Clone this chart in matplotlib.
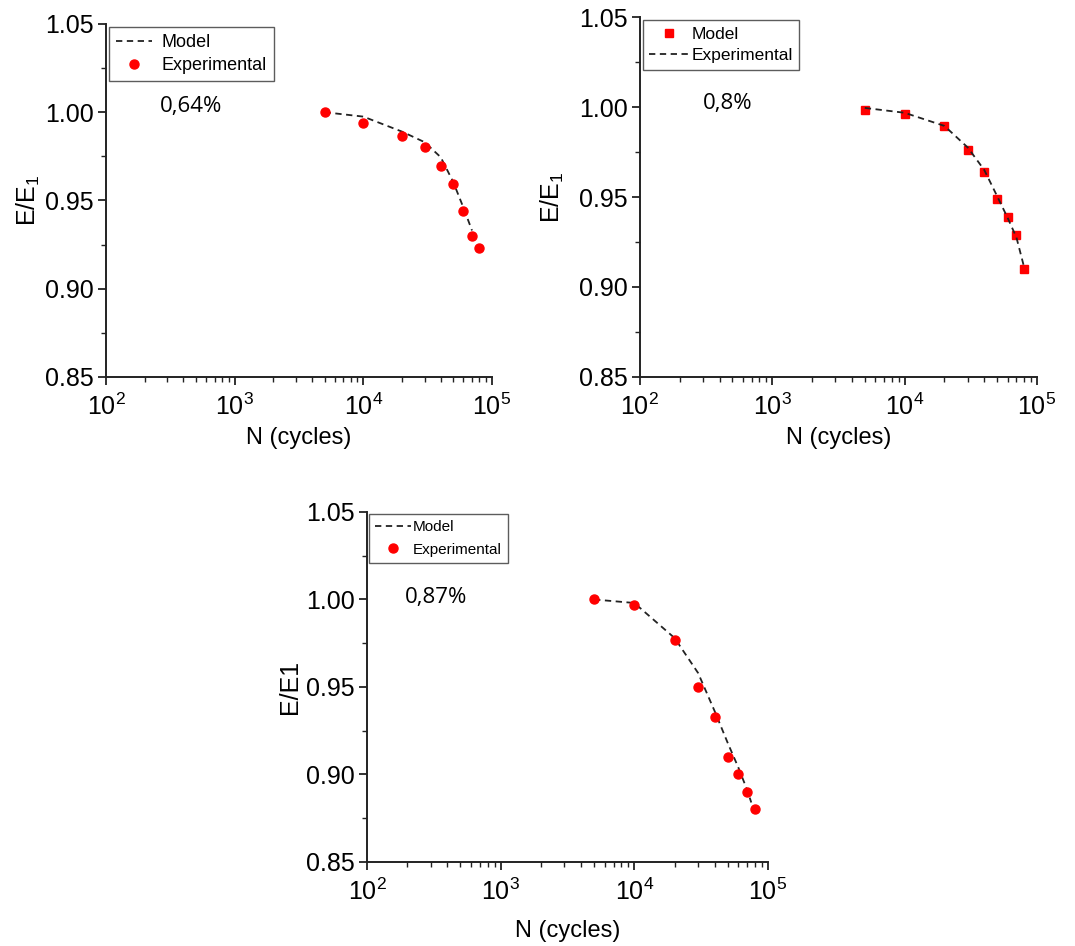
import matplotlib
matplotlib.use("Agg")
import matplotlib.pyplot as plt
from matplotlib.ticker import LogLocator, MultipleLocator, FormatStrFormatter

plt.rcParams['font.family'] = ['Liberation Sans', 'DejaVu Sans']
plt.rcParams['mathtext.default'] = 'regular'

# panel 1 : 0,64%
exp1_n = [5000, 10000, 20000, 30000, 40000, 50000, 60000, 70000, 80000]
exp1_e = [1.000, 0.994, 0.9865, 0.9805, 0.9695, 0.9596, 0.9438, 0.930, 0.923]
mod1_n = [5000, 10000, 20000, 30000, 40000, 50000, 60000, 70000]
mod1_e = [1.000, 0.9975, 0.989, 0.983, 0.9745, 0.9605, 0.946, 0.933]

# panel 2 : 0,8%
exp2_n = [5000, 10000, 20000, 30000, 40000, 50000, 60000, 70000, 80000]
exp2_e = [0.9985, 0.9963, 0.9893, 0.976, 0.964, 0.949, 0.939, 0.929, 0.910]
mod2_n = [5000, 10000, 20000, 30000, 40000, 50000, 60000, 70000, 80000]
mod2_e = [0.9995, 0.9968, 0.9895, 0.9775, 0.965, 0.9505, 0.9385, 0.9275, 0.911]

# panel 3 : 0,87%
exp3_n = [5000, 10000, 20000, 30000, 40000, 50000, 60000, 70000, 80000]
exp3_e = [1.000, 0.9966, 0.9767, 0.950, 0.9326, 0.910, 0.900, 0.890, 0.880]
mod3_n = [5000, 10000, 20000, 30000, 40000, 50000, 60000, 70000, 75000]
mod3_e = [1.000, 0.998, 0.978, 0.958, 0.936, 0.918, 0.904, 0.891, 0.884]

labels = ['0,64%', '0,8%', '0,87%']

fig = plt.figure(figsize=(10.75, 9.46), dpi=100)
ax1 = fig.add_axes([0.0986, 0.6015, 0.359, 0.3732])
ax2 = fig.add_axes([0.5953, 0.6015, 0.3693, 0.3805])
ax3 = fig.add_axes([0.3414, 0.0888, 0.373, 0.370])


def style(ax, ylab, xpad, ypad):
    ax.set_xscale('log')
    ax.set_xlim(100, 100000)
    ax.set_ylim(0.85, 1.05)
    ax.spines['top'].set_visible(False)
    ax.spines['right'].set_visible(False)
    for s in ['left', 'bottom']:
        ax.spines[s].set_linewidth(1.4)
        ax.spines[s].set_color('#222222')
    ax.yaxis.set_major_locator(MultipleLocator(0.05))
    ax.yaxis.set_minor_locator(MultipleLocator(0.025))
    ax.yaxis.set_major_formatter(FormatStrFormatter('%.2f'))
    ax.xaxis.set_major_locator(LogLocator(base=10, numticks=10))
    ax.xaxis.set_minor_locator(LogLocator(base=10, subs=range(2, 10), numticks=10))
    ax.tick_params(which='major', direction='out', length=6, width=1.3,
                   labelsize=18, color='#222222', pad=3)
    ax.tick_params(axis='x', which='major', pad=6)
    ax.tick_params(which='minor', direction='out', length=3.5, width=1.0, color='#222222')
    ax.set_xlabel('N (cycles)', fontsize=17, labelpad=xpad)
    ax.set_ylabel(ylab, fontsize=18, labelpad=ypad)


style(ax1, 'E/E$_1$', 5, 2)
style(ax2, 'E/E$_1$', 5, 9)
style(ax3, 'E/E1', 11, 2.5)

leg_kw = dict(loc='upper left', fancybox=False, edgecolor='#333333',
              borderaxespad=0.15, labelspacing=0.35, borderpad=0.4)

# panel 1
ax1.plot(mod1_n, mod1_e, color='#222222', ls=(0, (3.5, 2.5)), lw=1.3, label='Model')
ax1.plot(exp1_n, exp1_e, 'o', color='#ff0000', ms=6.5, label='Experimental')
lg = ax1.legend(fontsize=13, handlelength=2.0, handletextpad=0.55, **leg_kw)
lg.get_frame().set_linewidth(1.0)
ax1.text(0.22, 0.765, labels[0], transform=ax1.transAxes, fontsize=16,
         family='Open Sans', ha='center', va='center')

# panel 2 (labels swapped as in the original)
ax2.plot(exp2_n, exp2_e, 's', color='#ff0000', ms=5.8, label='Model')
ax2.plot(mod2_n, mod2_e, color='#222222', ls=(0, (3.5, 2.5)), lw=1.3, label='Experimental')
lg = ax2.legend(fontsize=12.5, handlelength=2.2, handletextpad=0.2, **leg_kw)
lg.get_frame().set_linewidth(1.0)
ax2.text(0.222, 0.761, labels[1], transform=ax2.transAxes, fontsize=16,
         family='Open Sans', ha='center', va='center')

# panel 3
ax3.plot(mod3_n, mod3_e, color='#222222', ls=(0, (3.5, 2.5)), lw=1.3, label='Model')
ax3.plot(exp3_n, exp3_e, 'o', color='#ff0000', ms=6.5, label='Experimental')
lg = ax3.legend(fontsize=11, handlelength=2.3, handletextpad=0.15,
                labelspacing=0.55, **{k: v for k, v in leg_kw.items() if k != 'labelspacing'})
lg.get_frame().set_linewidth(1.0)
ax3.text(0.172, 0.757, labels[2], transform=ax3.transAxes, fontsize=16,
         family='Open Sans', ha='center', va='center')

fig.savefig('out.png', dpi=100)
